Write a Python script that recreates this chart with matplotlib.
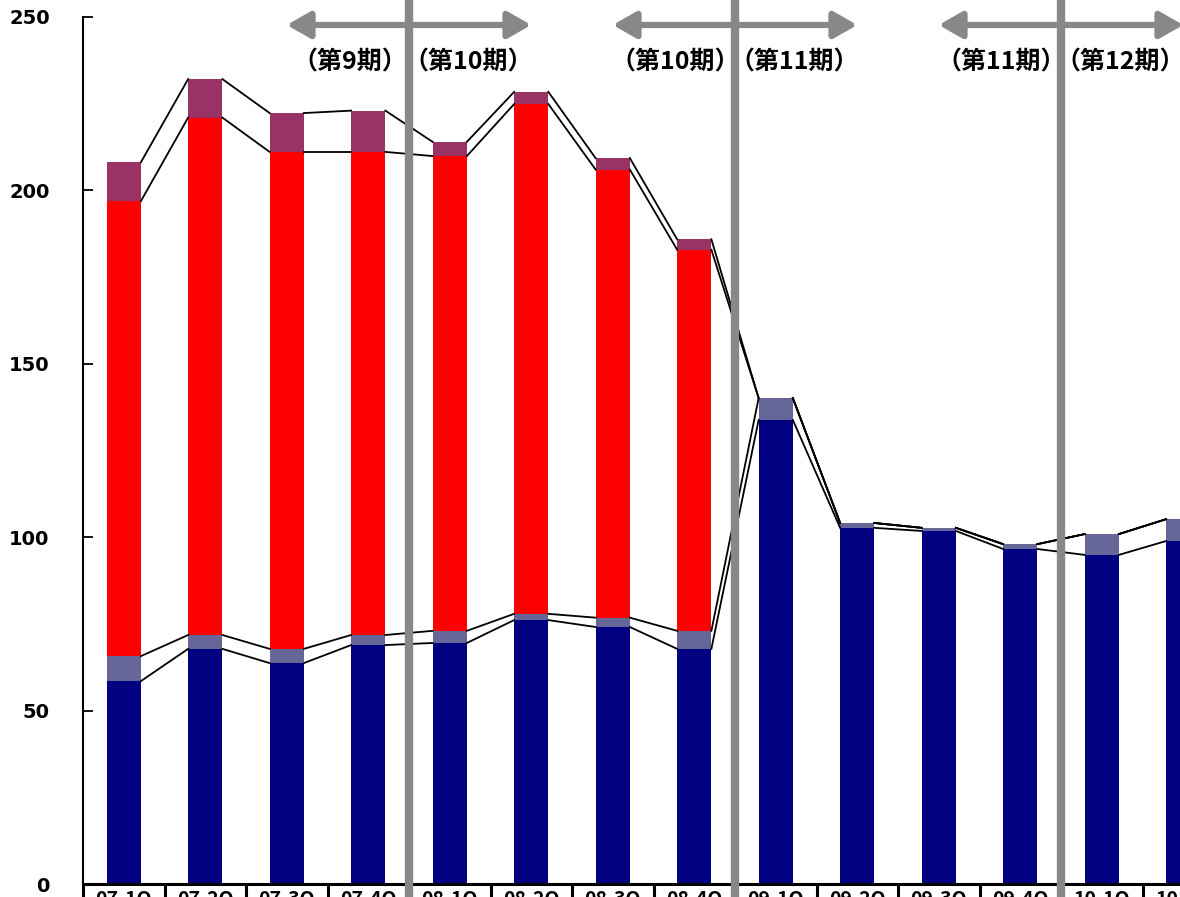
import matplotlib
matplotlib.use('Agg')
import matplotlib.pyplot as plt

plt.rcParams['font.family'] = ['Noto Sans CJK JP', 'DejaVu Sans']

# quarter labels (the row at the bottom is cut off in the original)
quarters = ['07-1Q', '07-2Q', '07-3Q', '07-4Q', '08-1Q', '08-2Q', '08-3Q',
            '08-4Q', '09-1Q', '09-2Q', '09-3Q', '09-4Q', '10-1Q', '10-2Q']

# stacked segments, bottom to top
navy = [58.5, 67.8, 63.7, 68.9, 69.5, 76.1, 74.1, 67.8, 133.8, 102.7, 101.8, 96.6, 94.9, 98.9]
slate = [7.2, 4.0, 4.1, 2.9, 3.5, 1.8, 2.7, 5.2, 6.3, 1.4, 0.9, 1.4, 6.0, 6.3]
red = [131.2, 149.2, 143.3, 139.3, 136.9, 147.0, 129.2, 109.9, 0, 0, 0, 0, 0, 0]
purple = [11.2, 11.1, 11.2, 11.9, 4.1, 3.5, 3.3, 3.0, 0, 0, 0, 0, 0, 0]

# period boundaries (index of last quarter before the break) and labels
breaks = [3, 7, 11]
left_labels = ['（第9期）', '（第10期）', '（第11期）']
right_labels = ['（第10期）', '（第11期）', '（第12期）']

colors = ['#000080', '#666699', '#FF0000', '#993366']
series = [navy, slate, red, purple]

fig = plt.figure(figsize=(11.8, 8.97), dpi=100)
ax = fig.add_axes([83 / 1180, 13 / 897, 1 - 83 / 1180, 867 / 897])

x = list(range(len(quarters)))
w = 0.42

bottom = [0.0] * len(x)
levels = []
for vals, c in zip(series, colors):
    ax.bar(x, vals, width=w, bottom=bottom, color=c, zorder=2)
    bottom = [b + v for b, v in zip(bottom, vals)]
    levels.append(bottom)

# series lines between neighbouring bars
for lev in levels:
    for i in range(len(x) - 1):
        ax.plot([x[i] + w / 2, x[i + 1] - w / 2], [lev[i], lev[i + 1]],
                color='black', lw=1.3, zorder=3)

# period dividers, arrows and labels
for b, ll, rl in zip(breaks, left_labels, right_labels):
    d = b + 0.5
    ax.axvline(d, ymin=-0.05, ymax=1.05, color='#888888', lw=6, zorder=5, clip_on=False)
    ax.annotate('', xy=(d - 1.5, 247.7), xytext=(d + 1.5, 247.7),
                arrowprops=dict(arrowstyle='<|-|>,head_length=1.4,head_width=0.8',
                                color='#888888', lw=4.5, shrinkA=0, shrinkB=0),
                zorder=4)
    ax.text(d - 0.73, 237, ll, ha='center', va='center', fontsize=18,
            fontweight='bold', zorder=6)
    ax.text(d + 0.73, 237, rl, ha='center', va='center', fontsize=18,
            fontweight='bold', zorder=6)

# axes styling
for s in ['top', 'right']:
    ax.spines[s].set_visible(False)
ax.spines['left'].set_linewidth(1.5)
ax.spines['bottom'].set_linewidth(2.2)

ax.set_yticks([0, 50, 100, 150, 200, 250])
ax.tick_params(axis='y', direction='in', length=7, width=1.3, pad=24)
for t in ax.get_yticklabels():
    t.set_fontweight('bold')
    t.set_fontsize(14)
    t.set_fontfamily('DejaVu Sans')

# table-like category row: dividers as ticks, labels as text
ax.set_xticks([i - 0.5 for i in range(len(quarters) + 1)])
ax.set_xticklabels([])
ax.tick_params(axis='x', which='major', direction='out', length=12, width=2.2)
for i, q in enumerate(quarters):
    ax.text(i, -0.007, q, transform=ax.get_xaxis_transform(), ha='center',
            va='top', fontsize=14, fontweight='bold', clip_on=False)

# limits last, so the tick setup does not widen them
ax.set_xlim(-0.5, (1180 - 83) / 81.5 - 0.5)
ax.set_ylim(0, 250)

fig.savefig('out.png', dpi=100)
